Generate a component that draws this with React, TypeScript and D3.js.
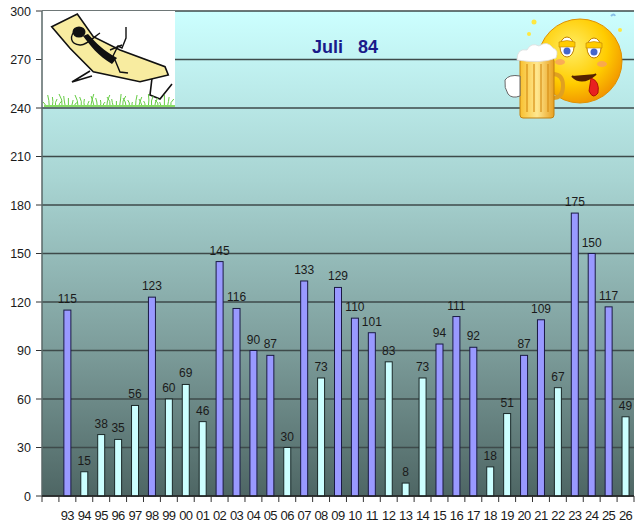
import React from 'react';
import * as d3 from 'd3';

const categories = ['', '93', '94', '95', '96', '97', '98', '99', '00', '01', '02', '03', '04', '05', '06', '07', '08', '09', '10', '11', '12', '13', '14', '15', '16', '17', '18', '19', '20', '21', '22', '23', '24', '25', '26'];
// hot days (blue) and cool days (light) per year; null = not in this series
const warmValues = [null, 115, null, null, null, null, 123, null, null, null, 145, 116, 90, 87, null, 133, null, 129, 110, 101, null, null, null, 94, 111, 92, null, null, 87, 109, null, 175, 150, 117, null];
const coolValues = [null, null, 15, 38, 35, 56, null, 60, 69, 46, null, null, null, null, 30, null, 73, null, null, null, 83, 8, 73, null, null, null, 18, 51, null, null, 67, null, null, null, 49];
const yTicks = [0, 30, 60, 90, 120, 150, 180, 210, 240, 270, 300];
const title = 'Juli\u00a0\u00a0\u00a084';

const W = 641;
const H = 529;
const left = 42;
const right = 634;
const top = 11;
const bottom = 496;
const font = 'Liberation Sans, Arial, sans-serif';

const x = d3.scaleBand<string>().domain(categories.map((c, i) => `${i}`)).range([left, right]).padding(0);
const y = d3.scaleLinear().domain([0, 300]).range([bottom, top]);
const barW = 7;

const Lounger: React.FC = () => {
  const grass = d3.range(0, 40).map(i => {
    const gx = 46 + i * 3.2;
    const h = 4 + ((i * 7) % 9);
    return `M${gx},106 q${(i % 3) - 1},${-h / 2} ${((i % 5) - 2) * 1.5},${-h}`;
  });
  return (
    <g>
      <rect x={left} y={top} width={133} height={96} fill="#ffffff" />
      {/* chair legs */}
      <path d="M90,71 L72,82 L92,76" fill="none" stroke="#111" strokeWidth={1.6} />
      <path d="M152,78 L150,95 L160,99 L172,84" fill="#fff" stroke="#111" strokeWidth={1.6} />
      {/* chair */}
      <path d="M51.7,26.7 L77.3,14 L93.3,36.7 L120,50 L165,66.7 L168.3,75 L140,81.7 L93.3,71.7 L70,48.3 Z" fill="#f8eca0" stroke="#111" strokeWidth={1.6} />
      {/* figure */}
      <ellipse cx={79} cy={32} rx={6.5} ry={5.5} fill="#111" />
      <path d="M83,36 C90,45 98,56 112,64 L117,58 C104,51 96,43 88,34 Z" fill="#111" />
      <path d="M76,30 C69,36 70,44 80,45 C86,46 95,36 100,33" fill="none" stroke="#111" strokeWidth={1.4} />
      <path d="M112,58 L118,46 L122,48 L126,38 L126,27" fill="none" stroke="#111" strokeWidth={1.4} />
      <path d="M115,60 L120,72 L128,73" fill="none" stroke="#111" strokeWidth={1.4} />
      <path d="M110,50 L122,45" fill="none" stroke="#111" strokeWidth={1.4} />
      {/* grass */}
      {grass.map((d, i) => <path key={i} d={d} fill="none" stroke="#66cc44" strokeWidth={1} />)}
      <path d="M44,106 L175,106" stroke="#88dd66" strokeWidth={2} />
    </g>
  );
};

const Smiley: React.FC = () => (
  <g>
    <defs>
      <radialGradient id="face" cx="0.4" cy="0.35" r="0.7">
        <stop offset="0" stopColor="#ffee66" />
        <stop offset="0.6" stopColor="#ffcc00" />
        <stop offset="1" stopColor="#f09000" />
      </radialGradient>
      <linearGradient id="beer" x1="0" x2="1" y1="0" y2="0">
        <stop offset="0" stopColor="#f8c030" />
        <stop offset="0.5" stopColor="#ffe890" />
        <stop offset="1" stopColor="#e8a020" />
      </linearGradient>
    </defs>
    <circle cx={534} cy={22} r={2.5} fill="#ffe840" />
    <circle cx={529} cy={34} r={2} fill="#ffe840" />
    <circle cx={620} cy={30} r={2} fill="#ffe840" />
    <path d="M611,16 q3,-3 4,0" stroke="#88c0e8" strokeWidth={2} fill="none" />
    <circle cx={580} cy={61} r={42} fill="url(#face)" stroke="#e09000" strokeWidth={1} />
    <ellipse cx={567} cy={47} rx={7} ry={10} fill="#fff" stroke="#c08000" strokeWidth={1} />
    <ellipse cx={594} cy={48} rx={7} ry={10} fill="#fff" stroke="#c08000" strokeWidth={1} />
    <path d="M559,42 q8,-3 16,0 L575,47 L559,47 Z" fill="#ffcc00" stroke="#c08000" strokeWidth={0.6} />
    <path d="M586,43 q8,-3 16,0 L602,48 L586,48 Z" fill="#ffcc00" stroke="#c08000" strokeWidth={0.6} />
    <circle cx={567} cy={51} r={3.5} fill="#4466cc" />
    <circle cx={594} cy={52} r={3.5} fill="#4466cc" />
    <ellipse cx={560} cy={62} rx={5} ry={3} fill="#f8a060" opacity={0.8} />
    <ellipse cx={602} cy={64} rx={5} ry={3} fill="#f8a060" opacity={0.8} />
    <path d="M572,76 q10,10 24,-2" stroke="#552200" strokeWidth={2} fill="#552200" />
    <path d="M591,78 q9,3 7,15 q-5,7 -9,-2 Z" fill="#e82020" stroke="#a00000" strokeWidth={0.8} />
    {/* mug */}
    <path d="M553,74 q10,0 10,12 q0,12 -10,12" fill="none" stroke="#e0a020" strokeWidth={4} />
    <rect x={520} y={58} width={34} height={60} rx={3} fill="url(#beer)" stroke="#c08010" strokeWidth={1} />
    <path d="M527,64 L527,112 M534,64 L534,112 M541,64 L541,112 M548,64 L548,112" stroke="#d89018" strokeWidth={1.2} />
    <path d="M517,60 q0,-12 10,-10 q4,-8 12,-4 q8,-6 14,2 q6,2 3,10 q-14,6 -39,2 Z" fill="#ffffff" stroke="#ddd" strokeWidth={0.8} />
    <path d="M505,80 q4,-6 15,-4 l0,20 q-8,3 -12,-2 q-4,-6 -3,-14 Z" fill="#ffffff" stroke="#666" strokeWidth={1} />
  </g>
);

export default function App() {
  const bars = categories.map((c, i) => ({ key: `${i}`, label: c, warm: warmValues[i], cool: coolValues[i] }));
  return (
    <div style={{ position: 'absolute', left: 0, top: 0 }}>
      <svg width={W} height={H} style={{ display: 'block', background: '#ffffff' }}>
        <defs>
          <linearGradient id="bg" x1="0" x2="0" y1="0" y2="1">
            <stop offset="0" stopColor="#ccffff" />
            <stop offset="0.35" stopColor="#a8d4d2" />
            <stop offset="0.7" stopColor="#7c9c9a" />
            <stop offset="1" stopColor="#4e6664" />
          </linearGradient>
        </defs>
        <rect x={left} y={top} width={right - left} height={bottom - top} fill="url(#bg)" />
        {yTicks.map(t => (
          <g key={t}>
            <line x1={left} x2={right} y1={y(t)} y2={y(t)} stroke="#3e4a4a" strokeWidth={1.5} />
            <line x1={left - 6} x2={left} y1={y(t)} y2={y(t)} stroke="#333" strokeWidth={1} />
            <text x={left - 11} y={y(t) + 4.5} textAnchor="end" fontSize={12.5} fontFamily={font} fill="#1a1a1a">{t}</text>
          </g>
        ))}
        <Lounger />
        <Smiley />
        <text x={345} y={53} textAnchor="middle" fontSize={18} fontWeight="bold" fontFamily={font} fill="#1a1a8a">{title}</text>
        {bars.map(b => {
          const v = b.warm ?? b.cool;
          if (v == null) return null;
          const cx = (x(b.key) as number) + x.bandwidth() / 2;
          return (
            <g key={b.key}>
              <rect x={cx - barW / 2} y={y(v)} width={barW} height={bottom - y(v)}
                fill={b.warm != null ? '#9999ff' : '#ccffff'} stroke={b.warm != null ? '#1a1a44' : '#1a2828'} strokeWidth={1} />
              <text x={cx} y={y(v) - 7} textAnchor="middle" fontSize={12} fontFamily={font} fill="#1a1a1a">{v}</text>
            </g>
          );
        })}
        <line x1={left} x2={left} y1={top} y2={bottom} stroke="#5a6868" strokeWidth={1.5} />
        <line x1={left} x2={right} y1={bottom} y2={bottom} stroke="#222" strokeWidth={1.5} />
        {categories.map((c, i) => (
          <line key={i} x1={x(`${i}`) as number} x2={x(`${i}`) as number} y1={bottom} y2={bottom + 6} stroke="#333" strokeWidth={1} />
        ))}
        <line x1={right} x2={right} y1={bottom} y2={bottom + 6} stroke="#333" strokeWidth={1} />
        {bars.map(b => (
          <text key={b.key} x={(x(b.key) as number) + x.bandwidth() / 2} y={520} textAnchor="middle" fontSize={13} fontFamily={font} fill="#1a1a1a" letterSpacing={-0.6}>{b.label}</text>
        ))}
      </svg>
    </div>
  );
}
